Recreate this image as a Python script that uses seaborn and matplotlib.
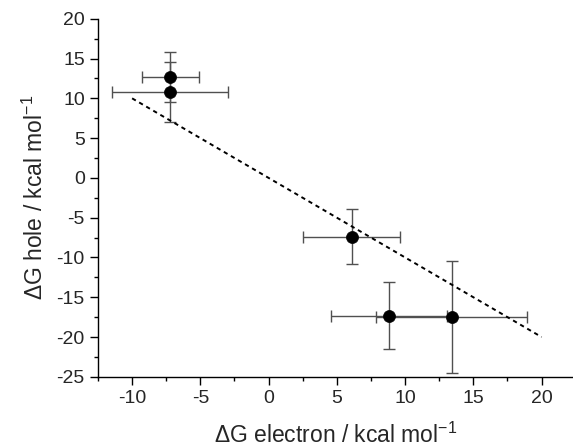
import numpy as np
import pandas as pd
import seaborn as sns
import matplotlib.pyplot as plt
from matplotlib.ticker import MultipleLocator

# measured values
dg_electron = [-7.2, -7.2, 6.1, 8.8, 13.4]
dg_hole = [12.7, 10.8, -7.4, -17.3, -17.5]
err_electron = [2.1, 4.25, 3.55, 4.25, 5.5]
err_hole = [3.15, 3.8, 3.45, 4.2, 7.0]

# guide line y = slope * x + intercept
fit_slope = -1.0
fit_intercept = 0.0
fit_range = [-10, 20]

sns.set_style("ticks")
plt.rcParams['font.family'] = ['Liberation Sans', 'DejaVu Sans']
plt.rcParams['mathtext.default'] = 'regular'
plt.rcParams['axes.unicode_minus'] = False

df = pd.DataFrame({"x": dg_electron, "y": dg_hole})
fit_x = np.array(fit_range)
fit = pd.DataFrame({"x": fit_x, "y": fit_slope * fit_x + fit_intercept})

fig = plt.figure(figsize=(5.73, 4.47), dpi=100)
ax = fig.add_axes([0.171, 0.157, 0.829, 0.801])

# error bars first, markers on top
ax.errorbar(dg_electron, dg_hole, xerr=err_electron, yerr=err_hole, fmt='none',
            ecolor='#505050', elinewidth=1.0, capsize=4, capthick=1.0, zorder=2)
sns.lineplot(data=fit, x="x", y="y", ax=ax, color='black', lw=1.4,
             linestyle=(0, (2.2, 2.0)), zorder=3)
sns.scatterplot(data=df, x="x", y="y", ax=ax, color='black', s=75,
                edgecolor='black', linewidth=0.5, zorder=4)

ax.set_xlim(-12.5, 22.3)
ax.set_ylim(-25, 20)
ax.xaxis.set_major_locator(MultipleLocator(5))
ax.xaxis.set_minor_locator(MultipleLocator(2.5))
ax.yaxis.set_major_locator(MultipleLocator(5))
ax.yaxis.set_minor_locator(MultipleLocator(2.5))
ax.tick_params(which='major', direction='out', length=6, width=1.0, labelsize=14, color='black')
ax.tick_params(which='minor', direction='out', length=3, width=1.0, color='black')

sns.despine(ax=ax)
for s in ['left', 'bottom']:
    ax.spines[s].set_linewidth(1.0)
    ax.spines[s].set_color('black')

ax.set_xlabel(r"$\Delta$G electron / kcal mol$^{-1}$", fontsize=16.5, labelpad=11)
ax.set_ylabel(r"$\Delta$G hole / kcal mol$^{-1}$", fontsize=16.5, labelpad=6)

plt.savefig("out.png", dpi=100)
